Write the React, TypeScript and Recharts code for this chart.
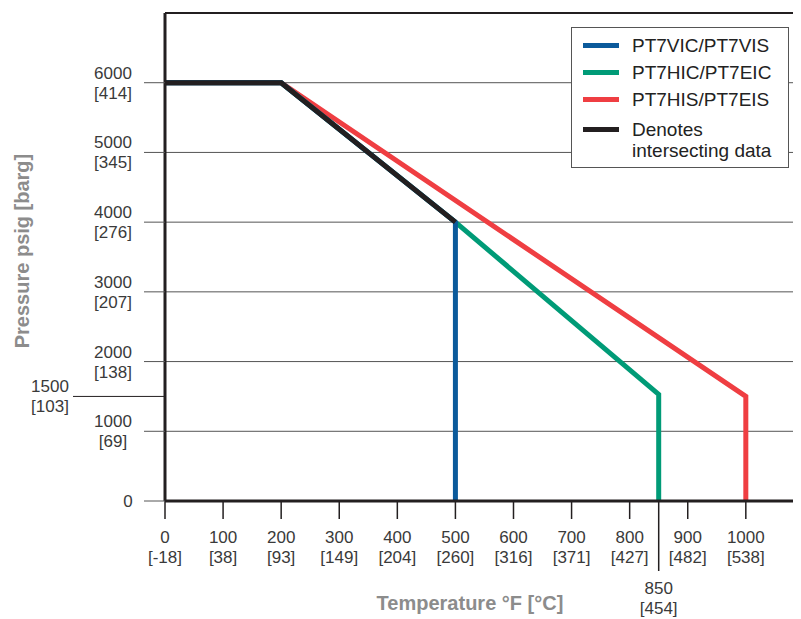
import { LineChart, Line, XAxis, YAxis, ReferenceLine, Legend } from "recharts";

// temperature (°F) / pressure (psig) points per series
const vicTemp = [0, 200, 500, 500];
const vicPsi = [6000, 6000, 4000, 0];
const hicTemp = [0, 200, 500, 850, 850];
const hicPsi = [6000, 6000, 4000, 1530, 0];
const hisTemp = [0, 200, 1000, 1000];
const hisPsi = [6000, 6000, 1500, 0];
const sharedTemp = [0, 200, 500];
const sharedPsi = [6000, 6000, 4000];

const seriesNames = ["PT7VIC/PT7VIS", "PT7HIC/PT7EIC", "PT7HIS/PT7EIS", "Denotes intersecting data"];
const seriesColors = ["#0b5a9b", "#009b77", "#ef3e42", "#231f20"];

const xTicksF = [0, 100, 200, 300, 400, 500, 600, 700, 800, 900, 1000];
const xTicksC = ["[-18]", "[38]", "[93]", "[149]", "[204]", "[260]", "[316]", "[371]", "[427]", "[482]", "[538]"];
const markerF = 850;
const markerC = "[454]";

const yTicksPsi = [0, 1000, 2000, 3000, 4000, 5000, 6000];
const yTicksBar = ["", "[69]", "[138]", "[207]", "[276]", "[345]", "[414]"];
const markerPsi = 1500;
const markerBar = "[103]";

const font = "'Liberation Sans', Arial, Helvetica, sans-serif";
const ink = "#231f20";
const labelColor = "#3a3a3a";
const titleColor = "#8c8c8c";

const toPoints = (t: number[], p: number[]) => t.map((temp, i) => ({ temp, psi: p[i] }));

function TempTick(props: any) {
  const { x, y, payload } = props;
  const v = payload.value;
  const isMarker = v === markerF;
  const c = isMarker ? markerC : xTicksC[xTicksF.indexOf(v)];
  const off = isMarker ? 51 : 0;
  return (
    <g>
      <line x1={x} x2={x} y1={y} y2={y + (isMarker ? 70 : 18)} stroke={ink} strokeWidth={1.5} />
      <text x={x} y={y + 42 + off} textAnchor="middle" fontFamily={font} fontSize={17} fill={labelColor}>
        {v}
      </text>
      <text x={x} y={y + 62 + off} textAnchor="middle" fontFamily={font} fontSize={17} fill={labelColor}>
        {c}
      </text>
    </g>
  );
}

function PressureTick(props: any) {
  const { x, y, payload } = props;
  const v = payload.value;
  const isMarker = v === markerPsi;
  const bar = isMarker ? markerBar : yTicksBar[yTicksPsi.indexOf(v)];
  const cx = isMarker ? x - 115 : x - 52;
  if (v === 0) {
    return (
      <g>
        <line x1={x - 21} x2={x} y1={y} y2={y} stroke="#555" strokeWidth={1} />
        <text x={x - 37} y={y + 6} textAnchor="middle" fontFamily={font} fontSize={17} fill={labelColor}>
          0
        </text>
      </g>
    );
  }
  return (
    <g>
      <line x1={isMarker ? x - 92 : x - 21} x2={x} y1={y} y2={y} stroke={isMarker ? ink : "#555"} strokeWidth={1} />
      <text x={cx} y={y - 4} textAnchor="middle" fontFamily={font} fontSize={17} fill={labelColor}>
        {v}
      </text>
      <text x={cx} y={y + 16} textAnchor="middle" fontFamily={font} fontSize={17} fill={labelColor}>
        {bar}
      </text>
    </g>
  );
}

function LegendBox() {
  const rows = [18, 45, 72, 102];
  return (
    <div
      style={{
        position: "relative",
        width: 218,
        height: 141,
        boxSizing: "border-box",
        border: "1px solid #555",
        background: "#fff",
        fontFamily: font,
        fontSize: 19,
        color: "#222",
      }}
    >
      {seriesNames.map((name, i) => (
        <div key={name}>
          <div
            style={{
              position: "absolute",
              left: 11,
              top: rows[i] - 3,
              width: 36,
              height: 5,
              background: seriesColors[i],
            }}
          />
          <div
            style={{
              position: "absolute",
              left: 60,
              top: rows[i] - 11,
              width: 156,
              lineHeight: "21px",
              whiteSpace: "pre",
            }}
          >
            {i === 3 ? "Denotes\nintersecting data" : name}
          </div>
        </div>
      ))}
    </div>
  );
}

export default function App() {
  return (
    <LineChart width={793} height={611} margin={{ top: 5, right: 0, bottom: 0, left: 0 }}>
      <XAxis
        type="number"
        dataKey="temp"
        domain={[0, 1095]}
        ticks={[...xTicksF, markerF]}
        interval={0}
        tickSize={0}
        tickMargin={0}
        tickLine={false}
        tick={<TempTick />}
        axisLine={{ stroke: ink, strokeWidth: 3 }}
        height={118}
        allowDataOverflow
        label={() => (
          <text x={462} y={602} textAnchor="middle" fontFamily={font} fontSize={20} fontWeight="bold" fill={titleColor}>
            Temperature °F [°C]
          </text>
        )}
      />
      <YAxis
        type="number"
        dataKey="psi"
        domain={[0, 7000]}
        ticks={[...yTicksPsi, markerPsi]}
        interval={0}
        tickSize={0}
        tickMargin={0}
        tickLine={false}
        tick={<PressureTick />}
        axisLine={{ stroke: ink, strokeWidth: 3 }}
        width={157}
        allowDataOverflow
        label={() => (
          <text
            x={21}
            y={243}
            transform="rotate(-90 21 243)"
            textAnchor="middle"
            fontFamily={font}
            fontSize={20}
            fontWeight="bold"
            fill={titleColor}
          >
            Pressure psig [barg]
          </text>
        )}
      />
      {yTicksPsi.slice(1).map((v) => (
        <ReferenceLine key={v} y={v} stroke="#555" strokeWidth={1} />
      ))}
      <ReferenceLine y={7000} stroke={ink} strokeWidth={2} />
      <Line data={toPoints(hisTemp, hisPsi)} dataKey="psi" name={seriesNames[2]} stroke={seriesColors[2]} strokeWidth={5} dot={false} isAnimationActive={false} />
      <Line data={toPoints(hicTemp, hicPsi)} dataKey="psi" name={seriesNames[1]} stroke={seriesColors[1]} strokeWidth={5} dot={false} isAnimationActive={false} />
      <Line data={toPoints(vicTemp, vicPsi)} dataKey="psi" name={seriesNames[0]} stroke={seriesColors[0]} strokeWidth={5} dot={false} isAnimationActive={false} />
      <Line data={toPoints(sharedTemp, sharedPsi)} dataKey="psi" name={seriesNames[3]} stroke={seriesColors[3]} strokeWidth={5} dot={false} isAnimationActive={false} />
      <Legend
        layout="vertical"
        align="center"
        verticalAlign="middle"
        content={<LegendBox />}
        wrapperStyle={{ top: 19, left: 563, width: 218, height: 141, bottom: "auto", right: "auto" }}
      />
    </LineChart>
  );
}
